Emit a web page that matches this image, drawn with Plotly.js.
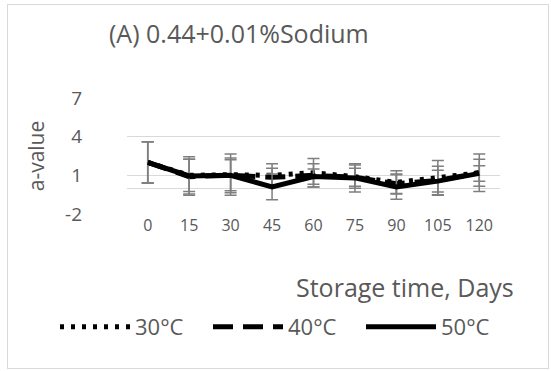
<!DOCTYPE html>
<html>
<head>
<meta charset="utf-8">
<script src="https://cdn.plot.ly/plotly-3.0.1.min.js"></script>
<style>
  html, body { margin: 0; padding: 0; background: #fff; }
  #wrap { position: relative; width: 551px; height: 371px; }
  #chart { width: 551px; height: 371px; }
  #frame { position: absolute; left: 7px; top: 4px; width: 540px; height: 363px; border: 1.5px solid #d9d9d9; pointer-events: none; }
</style>
</head>
<body>
<div id="wrap"><div id="chart"></div><div id="frame"></div></div>
<script>
const days = ['0', '15', '30', '45', '60', '75', '90', '105', '120'];
const seriesNames = ['30°C', '40°C', '50°C'];
const a30 = [2.0, 1.0, 1.05, 1.0, 1.2, 0.9, 0.45, 0.8, 1.2];
const a40 = [2.0, 0.9, 1.0, 0.85, 1.0, 0.85, 0.35, 0.6, 1.2];
const a50 = [2.0, 0.95, 1.0, 0.1, 0.9, 0.8, 0.1, 0.55, 1.15];
const e30 = [1.6, 1.25, 1.6, 0.9, 1.1, 0.9, 0.9, 1.35, 1.45];
const e40 = [1.6, 1.35, 1.2, 0.7, 0.9, 0.7, 0.75, 1.1, 1.05];
const e50 = [1.6, 1.5, 1.35, 1.0, 0.6, 1.1, 0.95, 0.85, 0.6];
const yTicks = [-2, 1, 4, 7];

const dashes = ['4px,7px', '20px,10px', 'solid'];
const vals = [a30, a40, a50];
const errs = [e30, e40, e50];

const traces = seriesNames.map((n, i) => ({
  type: 'scatter', mode: 'lines', name: n, x: days, y: vals[i],
  line: { color: '#000', width: 5, dash: dashes[i] },
  error_y: { type: 'data', array: errs[i], visible: true, color: '#7f7f7f', thickness: 1.5, width: 6 }
}));

const font = '"Open Sans", Lato, sans-serif';
const grey = '#595959';
const layout = {
  width: 551, height: 371,
  margin: { l: 127, r: 51, t: 98, b: 157, autoexpand: false },
  paper_bgcolor: '#fff', plot_bgcolor: '#fff',
  font: { family: font, color: grey, size: 16 },
  showlegend: true,
  legend: { orientation: 'h', x: (55-127)/373, xanchor: 'left', xref: 'paper', y: (214-327)/116, yref: 'paper', yanchor: 'middle',
            font: { size: 22, color: grey }, itemwidth: 70, entrywidth: 68, entrywidthmode: 'pixels', traceorder: 'normal' },
  xaxis: { type: 'category', range: [-0.5, 8.5], showgrid: false, zeroline: false, showline: false,
           ticks: '', tickfont: { size: 16, color: grey }, fixedrange: true },
  yaxis: { range: [-2, 7], tickvals: yTicks, ticktext: yTicks.map(String), showgrid: true, gridcolor: '#d9d9d9', gridwidth: 1,
           zeroline: true, zerolinecolor: '#d9d9d9', zerolinewidth: 1, showline: false, ticks: '',
           ticklabelstandoff: 44, tickfont: { size: 19, color: grey },
           title: { text: 'a-value', font: { size: 21, color: grey }, standoff: 14 } },
  annotations: [
    { text: '(A) 0.44+0.01%Sodium', xref: 'paper', yref: 'paper', x: (107-127)/373, y: 1 + (98-33)/116, xanchor: 'left', yanchor: 'middle',
      showarrow: false, font: { size: 25, color: grey } },
    { text: 'Storage time, Days', xref: 'paper', yref: 'paper', x: (516-127)/373, y: 1 - (287-98)/116, xanchor: 'right', yanchor: 'middle',
      showarrow: false, font: { size: 25, color: grey } }
  ]
};
Plotly.newPlot('chart', traces, layout, { staticPlot: true });
</script>
</body>
</html>
